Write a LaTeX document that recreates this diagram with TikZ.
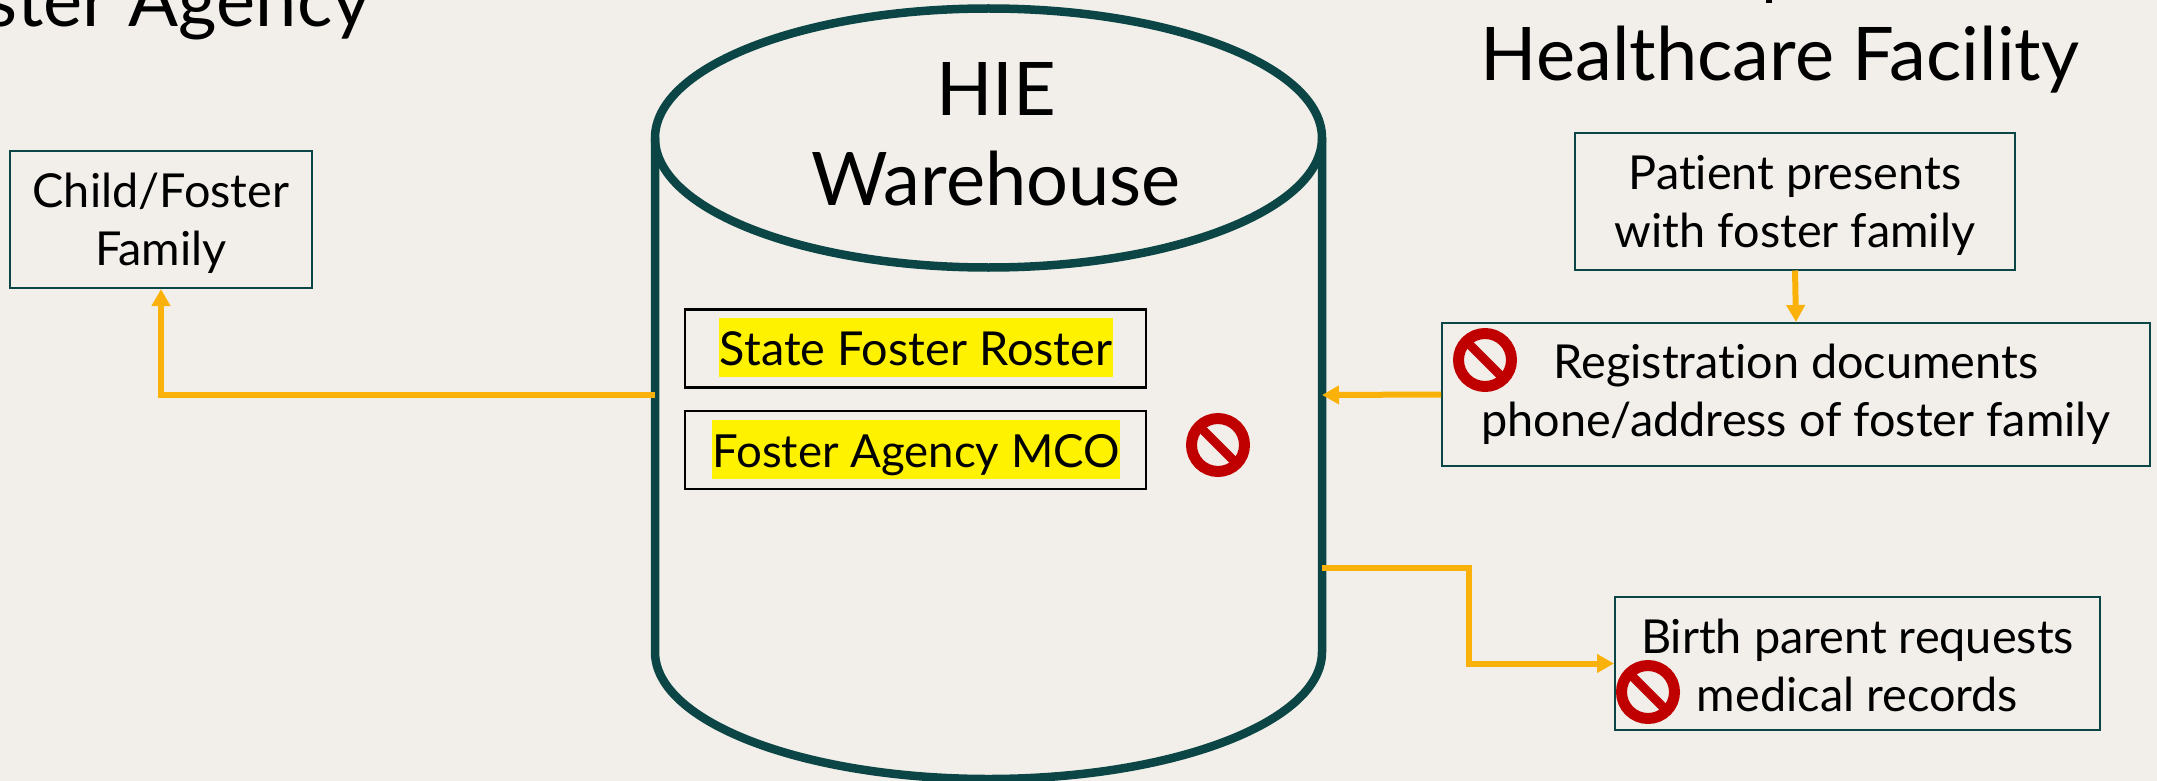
\documentclass[tikz,border=0pt]{standalone}
\usepackage{fontspec}
\setmainfont[Ligatures=NoCommon]{Lato}
\usetikzlibrary{arrows.meta,shapes.geometric}
\definecolor{PageCream}{HTML}{F2EFEA}
\definecolor{WareTeal}{HTML}{0B4545}
\definecolor{FlowAmber}{HTML}{FAB20B}
\definecolor{StopRed}{HTML}{C00000}
\newcommand{\topgap}[1]{\rule{0pt}{#1}}
\tikzset{
  textbox/.style={draw=WareTeal,line width=1pt,align=center,inner sep=0pt,font=\fontsize{23.4}{29}\selectfont},
  listbox/.style={draw=black,line width=1.25pt,inner sep=0pt,minimum width=230.5pt,minimum height=39pt},
  marked/.style={fill=yellow,inner sep=0pt,text height=23.5pt,text depth=6pt,font=\fontsize{23.4}{29}\selectfont},
  titletext/.style={anchor=base,inner sep=0pt,font=\fontsize{37}{44}\selectfont},
  flow/.style={draw=FlowAmber,line width=3pt,-{Triangle[length=8.5pt,width=9pt]}},
  nosign/.style={circle,draw=StopRed,line width=5.5pt,inner sep=0pt,minimum size=26.5pt,
    path picture={\draw[StopRed,line width=4.5pt] (path picture bounding box.north west) -- (path picture bounding box.south east);}},
}

\begin{document}
\begin{tikzpicture}[x=0.5pt,y=-0.5pt]
  \useasboundingbox[fill=PageCream] (0,0) rectangle (2157,781);
  \node[titletext,anchor=base east] (agencyTitle) at (371,27) {ster Agency};
  \node[titletext] (facilityTitle) at (1780,81) {Healthcare Facility};
  \fill (1766,0) rectangle (1772,3);

  \draw[WareTeal,line width=4.25pt] (655,138) -- (655,652) arc[start angle=180,end angle=0,x radius=333.5,y radius=127] -- (1322,138);
  \node[ellipse,draw=WareTeal,line width=4.25pt,minimum width=333.5pt,minimum height=129.5pt,inner sep=0pt] (wareTop) at (988.5,138) {};
  \node[titletext] (wareName) at (996,115.5) {HIE};
  \node[titletext] (wareLabel) at (996,205.5) {Warehouse};
  \coordinate (wareWest) at (655,395);
  \coordinate (wareEast) at (1322,395);
  \coordinate (wareOut) at (1322,568);

  \node[listbox] (stateBox) at (915.5,348.5) {};
  \node[marked,minimum width=197pt] (stateText) at (916,347.5) {State Foster Roster};
  \node[listbox] (mcoBox) at (915.5,450) {};
  \node[marked,minimum width=204pt] (mcoText) at (916,449.5) {\fontsize{22.8}{29}\selectfont Foster Agency MCO};

  \node[textbox,minimum width=151pt,minimum height=68.5pt] (childBox) at (161,219.5) {\topgap{21pt}Child/Foster\\Family};
  \node[textbox,minimum width=220pt,minimum height=68pt] (patientBox) at (1795,201.5) {\topgap{21pt}Patient presents\\with foster family};
  \node[textbox,minimum width=354pt,minimum height=71.5pt] (regBox) at (1796,394.5) {Registration documents\\phone/address of foster family};
  \node[textbox,minimum width=242.5pt,minimum height=66.5pt] (birthBox) at (1857.5,663.5) {\topgap{19.5pt}Birth parent requests\\medical records};

  \draw[flow] (wareWest) -| (childBox.south);
  \draw[flow] (patientBox.south) -- (regBox.north);
  \draw[flow] (regBox.west) -- (wareEast);
  \draw[flow] (wareOut) -- (1469,568) |- (birthBox.west);

  \node[nosign] (regStop) at (1485,360) {};
  \node[nosign] (mcoStop) at (1218,445) {};
  \node[nosign] (birthStop) at (1648,692) {};
\end{tikzpicture}
\end{document}
